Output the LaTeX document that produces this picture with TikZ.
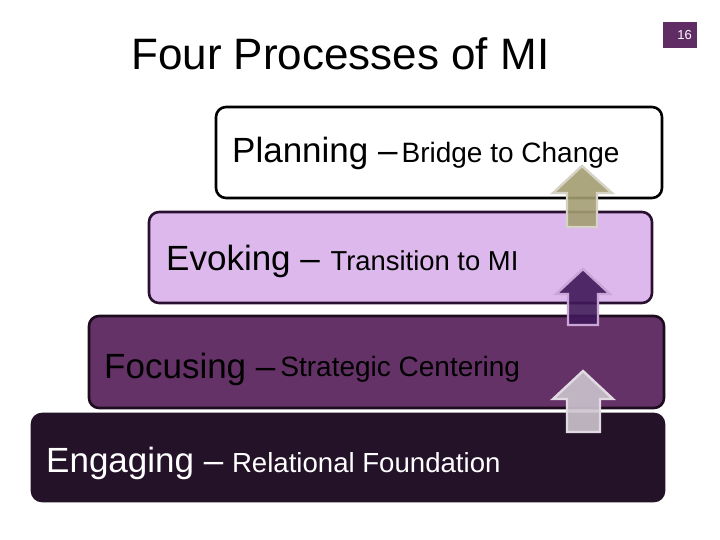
\documentclass[tikz,border=0pt]{standalone}
\usepackage{fontspec}
\setmainfont{Liberation Sans}
\definecolor{evfill}{HTML}{DCB8EC}
\definecolor{evline}{HTML}{2A1030}
\definecolor{fofill}{HTML}{643266}
\definecolor{foline}{HTML}{1C0C1E}
\definecolor{enfill}{HTML}{241228}
\definecolor{numfill}{HTML}{5F2D63}
\definecolor{olivefill}{HTML}{A39D72}
\definecolor{oliveline}{HTML}{D6D2C6}
\definecolor{purpfill}{HTML}{40195A}
\definecolor{purpline}{HTML}{C9A6D6}
\definecolor{greyfill}{HTML}{CCC4CE}
\definecolor{greyline}{HTML}{E2DAE2}
\newcommand{\bigtxt}[1]{{\fontsize{35}{40}\selectfont #1}}
\newcommand{\smltxt}[1]{{\fontsize{28}{32}\selectfont #1}}
\begin{document}
\begin{tikzpicture}[x=1pt,y=-1pt,
  stage/.style={rounded corners=10pt, line width=2.6pt},
  lbl/.style={anchor=base west, inner sep=0pt},
  uparrow/.style={line width=2.4pt, line join=miter, fill opacity=0.9}]
\useasboundingbox (0,0) rectangle (720,540);
% title
\node[lbl] (title) at (131,70) {\fontsize{44}{50}\selectfont Four Processes of MI};
% slide number
\node[fill=numfill, minimum width=34pt, minimum height=26pt, inner sep=0pt, anchor=north west] (num) at (663,22) {};
\node[anchor=east, text=white, inner sep=0pt] (numtxt) at (692,35) {\fontsize{13}{15}\selectfont 16};
% stage boxes
\draw[stage, fill=enfill, draw=enfill] (32,414) rectangle (664,501);
\draw[stage, fill=fofill, draw=foline] (89,316) rectangle (664,408);
\draw[stage, fill=evfill, draw=evline] (149,212) rectangle (652,303);
\draw[stage, fill=white, draw=black] (216,107) rectangle (662,198);
% labels
\node[lbl] (plan) at (232,163) {\bigtxt{Planning –}\hspace{4pt}\smltxt{Bridge to Change}};
\node[lbl] (evok) at (166,270) {\bigtxt{Evoking – }\hspace{1pt}{\fontsize{27.4}{32}\selectfont Transition to MI}};
\node[lbl] (focus) at (104,378) {\bigtxt{Focusing –}\hspace{5pt}\raisebox{2pt}{\smltxt{Strategic Centering}}};
\node[lbl, text=white] (engage) at (46,472) {\bigtxt{Engaging – }\hspace{-1pt}{\fontsize{27.6}{32}\selectfont Relational Foundation}};
% arrows
\draw[uparrow, fill=olivefill, draw=oliveline]
  (582,166) -- (612,193) -- (597,193) -- (597,227) -- (567,227) -- (567,193) -- (553,193) -- cycle;
\draw[uparrow, fill=purpfill, draw=purpline]
  (583,269) -- (610,294) -- (598,294) -- (598,325) -- (568,325) -- (568,294) -- (556,294) -- cycle;
\draw[uparrow, fill=greyfill, draw=greyline]
  (583,371) -- (613,399) -- (600,399) -- (600,432) -- (567,432) -- (567,399) -- (553,399) -- cycle;
\end{tikzpicture}
\end{document}
